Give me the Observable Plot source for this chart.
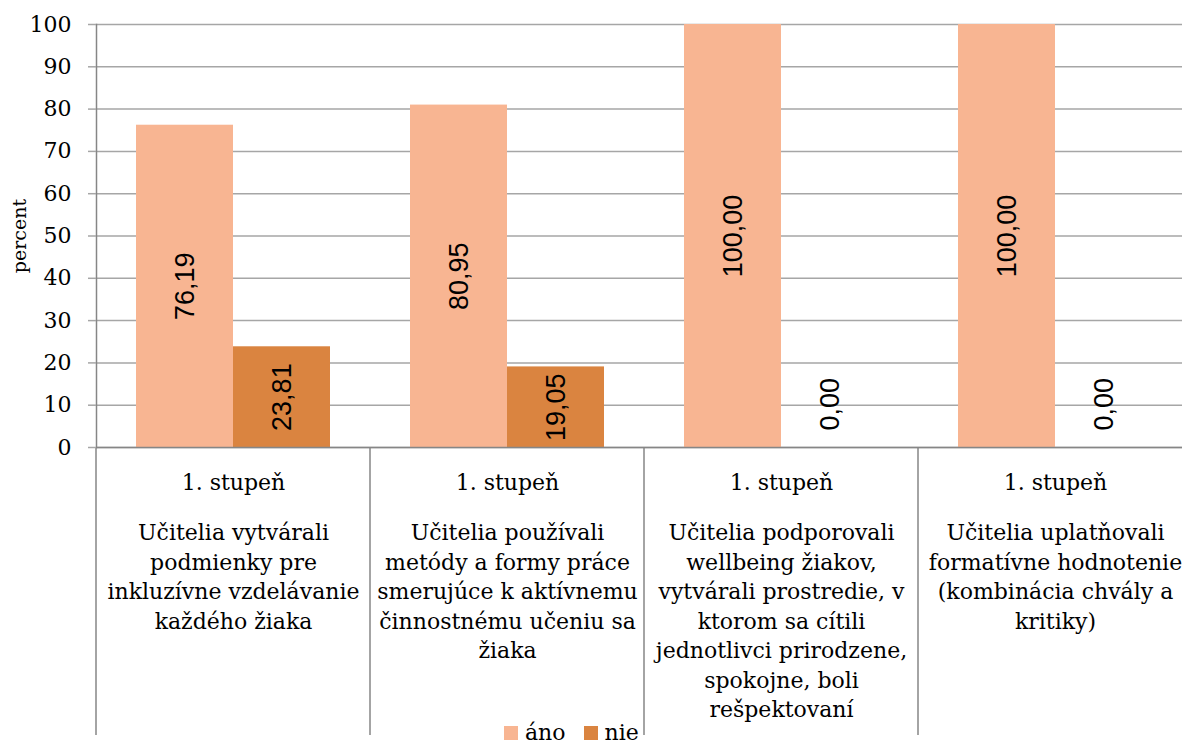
<!DOCTYPE html>
<html>
<head>
<meta charset="utf-8">
<script src="https://cdn.jsdelivr.net/npm/d3@7"></script>
<script src="https://cdn.jsdelivr.net/npm/@observablehq/plot@0.6"></script>
<style>
  html, body { margin: 0; padding: 0; background: #fff; overflow: hidden; width: 1182px; height: 746px; }
  #chart { position: relative; width: 1182px; height: 746px; overflow: hidden; }
  #chart svg { max-width: none !important; width: 1193px !important; height: 746px !important; display: block; }
  #legend { position: absolute; left: 504px; top: 722px; font-family: "DejaVu Serif", serif; font-size: 22px; line-height: 22px; color: #000; white-space: nowrap; }
  #legend .item { display: inline-block; }
  #legend .item + .item { margin-left: 18px; }
  #legend .sw { display: inline-block; width: 14px; height: 14px; margin-right: 7px; vertical-align: 0px; }
</style>
</head>
<body>
<div id="chart"></div>
<script>
// ---- data ----
const levels = ["1. stupeň", "1. stupeň", "1. stupeň", "1. stupeň"];
const categories = [
  "Učitelia vytvárali\npodmienky pre\ninkluzívne vzdelávanie\nkaždého žiaka",
  "Učitelia používali\nmetódy a formy práce\nsmerujúce k aktívnemu\nčinnostnému učeniu sa\nžiaka",
  "Učitelia podporovali\nwellbeing žiakov,\nvytvárali prostredie, v\nktorom sa cítili\njednotlivci prirodzene,\nspokojne, boli\nrešpektovaní",
  "Učitelia uplatňovali\nformatívne hodnotenie\n(kombinácia chvály a\nkritiky)"
];
const series = ["áno", "nie"];
const anoValues = [76.19, 80.95, 100.00, 100.00];
const nieValues = [23.81, 19.05, 0.00, 0.00];
const seriesColors = ["#F8B592", "#DA8440"];
const yTicks = [0, 10, 20, 30, 40, 50, 60, 70, 80, 90, 100];
const yLabel = "percent";

// ---- table built from arrays ----
const valuesBySeries = [anoValues, nieValues];
const rows = [];
categories.forEach((c, i) => {
  series.forEach((s, j) => rows.push({category: c, level: levels[i], series: s, value: valuesBySeries[j][i]}));
});
const catRows = categories.map((c, i) => ({category: c, level: levels[i]}));
const fmt = v => v.toFixed(2).replace(".", ",");

// separators below the category axis, one per facet (left edge)
function separators(index, scales, values, dimensions) {
  const y0 = scales.y(0);
  return d3.create("svg:line")
    .attr("x1", dimensions.marginLeft).attr("x2", dimensions.marginLeft)
    .attr("y1", y0).attr("y2", dimensions.height - 11)
    .attr("stroke", "#868686").attr("stroke-width", 1.5)
    .node();
}

const chart = Plot.plot({
  width: 1193,
  height: 746,
  marginLeft: 95,
  marginRight: 0,
  marginTop: 24,
  marginBottom: 299,
  style: {fontFamily: "DejaVu Serif", background: "white", overflow: "visible", color: "black"},
  fx: {domain: categories, padding: 0, axis: null},
  x: {domain: series, paddingInner: 0, paddingOuter: 0.4, axis: null},
  y: {domain: [0, 100], axis: null},
  color: {domain: series, range: seriesColors},
  marks: [
    Plot.gridY(yTicks, {stroke: "#A6A6A6", strokeOpacity: 1, strokeWidth: 1.5}),
    Plot.barY(rows, {fx: "category", x: "series", y: "value", fill: "series"}),
    Plot.ruleY([0], {stroke: "#868686", strokeWidth: 1.5}),
    Plot.frame({anchor: "left", facetAnchor: "left", stroke: "#868686", strokeWidth: 1.5}),
    separators,
    Plot.axisY(yTicks, {
      tickSize: 8, tickPadding: 17, stroke: "#A6A6A6", strokeWidth: 1.5,
      fill: "black", fontSize: 22, fontFamily: "DejaVu Serif", label: null
    }),
    Plot.axisY([], {
      tickSize: 0, fill: "black", fontSize: 19, fontFamily: "DejaVu Serif", dy: 7,
      label: yLabel, labelAnchor: "center", labelArrow: false, labelOffset: 84
    }),
    Plot.text(rows.filter(d => d.value > 0), {
      fx: "category", x: "series", y: d => d.value / 2, text: d => fmt(d.value),
      rotate: -90, fontSize: 27, fontFamily: "Liberation Sans", fill: "black"
    }),
    Plot.text(rows.filter(d => d.value === 0), {
      fx: "category", x: "series", y: "value", text: d => fmt(d.value),
      rotate: -90, textAnchor: "start", dy: -17, fontSize: 27, fontFamily: "Liberation Sans", fill: "black"
    }),
    Plot.text(catRows, {
      fx: "category", text: "level", frameAnchor: "bottom", lineAnchor: "top",
      dy: 27, fontSize: 22, fill: "black"
    }),
    Plot.text(catRows, {
      fx: "category", text: "category", frameAnchor: "bottom", lineAnchor: "top",
      lineHeight: 1.34, dy: 72, fontSize: 22, fill: "black"
    })
  ]
});

const host = document.getElementById("chart");
host.appendChild(chart);

// legend below
const legend = document.createElement("div");
legend.id = "legend";
series.forEach((s, i) => {
  const item = document.createElement("span");
  item.className = "item";
  const sw = document.createElement("span");
  sw.className = "sw";
  sw.style.background = seriesColors[i];
  item.appendChild(sw);
  item.appendChild(document.createTextNode(s));
  legend.appendChild(item);
});
host.appendChild(legend);
</script>
</body>
</html>
